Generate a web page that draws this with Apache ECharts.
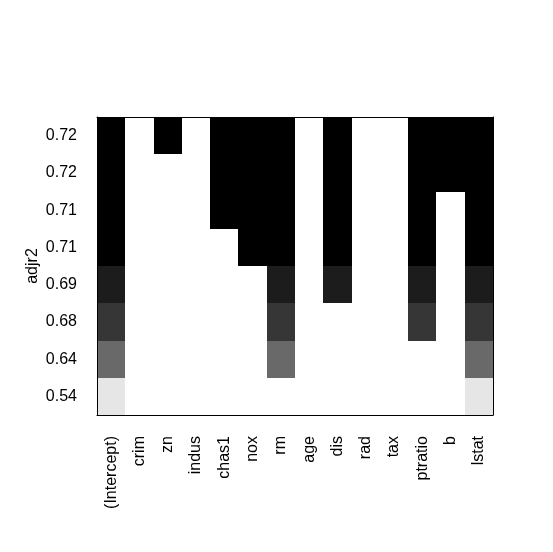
<!DOCTYPE html>
<html>
<head>
<meta charset="utf-8">
<script src="https://cdn.jsdelivr.net/npm/echarts@6/dist/echarts.min.js"></script>
<style>
  html, body { margin: 0; padding: 0; background: #fff; }
  #chart { width: 553px; height: 552px; }
</style>
</head>
<body>
<div id="chart"></div>
<script>
// variables on the x axis
var vars = ['(Intercept)', 'crim', 'zn', 'indus', 'chas1', 'nox', 'rm', 'age',
            'dis', 'rad', 'tax', 'ptratio', 'b', 'lstat'];

// adjr2 tick labels, bottom row first
var adjr2Labels = ['0.54', '0.64', '0.68', '0.69', '0.71', '0.71', '0.72', '0.72'];

// grey level of each row (0 = black), bottom row first
var shades = [0.9, 0.41, 0.21, 0.11, 0, 0, 0, 0];

// variables kept in each model, bottom row first
var models = [
  ['(Intercept)', 'lstat'],
  ['(Intercept)', 'rm', 'lstat'],
  ['(Intercept)', 'rm', 'ptratio', 'lstat'],
  ['(Intercept)', 'rm', 'dis', 'ptratio', 'lstat'],
  ['(Intercept)', 'nox', 'rm', 'dis', 'ptratio', 'lstat'],
  ['(Intercept)', 'chas1', 'nox', 'rm', 'dis', 'ptratio', 'lstat'],
  ['(Intercept)', 'chas1', 'nox', 'rm', 'dis', 'ptratio', 'b', 'lstat'],
  ['(Intercept)', 'zn', 'chas1', 'nox', 'rm', 'dis', 'ptratio', 'b', 'lstat']
];

function grey(g) {
  var c = Math.round(g * 255);
  return 'rgb(' + c + ',' + c + ',' + c + ')';
}

var cells = [];
models.forEach(function(m, row) {
  m.forEach(function(v) {
    cells.push({ value: [vars.indexOf(v), row], itemStyle: { color: grey(shades[row]) } });
  });
});

var font = '"Liberation Sans", Arial, sans-serif';
var chart = echarts.init(document.getElementById('chart'), null, { renderer: 'canvas' });

chart.setOption({
  backgroundColor: '#fff',
  animation: false,
  grid: { left: 97, right: 60, top: 117, bottom: 137, containLabel: false },
  xAxis: [{
    type: 'category',
    data: vars,
    z: 10,
    axisLine: { lineStyle: { color: '#000', width: 1 } },
    axisTick: { alignWithLabel: true, length: 9, lineStyle: { color: '#000' } },
    axisLabel: { rotate: 90, interval: 0, margin: 21, fontSize: 16, color: '#000', fontFamily: font },
    splitLine: { show: false }
  }, {
    type: 'category',
    data: vars,
    position: 'top',
    z: 10,
    axisLine: { lineStyle: { color: '#000', width: 1 } },
    axisTick: { show: false },
    axisLabel: { show: false }
  }],
  yAxis: [{
    type: 'category',
    data: adjr2Labels,
    z: 10,
    name: 'adjr2',
    nameLocation: 'middle',
    nameGap: 56,
    nameMoveOverlap: false,
    nameRotate: 90,
    nameTextStyle: { fontSize: 16, color: '#000', fontFamily: font },
    axisLine: { lineStyle: { color: '#000', width: 1 } },
    axisTick: { alignWithLabel: true, length: 9, lineStyle: { color: '#000' } },
    axisLabel: { interval: 0, margin: 20, padding: [5, 0, 0, 0], fontSize: 16, color: '#000', fontFamily: font },
    splitLine: { show: false }
  }, {
    type: 'category',
    data: adjr2Labels,
    position: 'right',
    z: 10,
    axisLine: { lineStyle: { color: '#000', width: 1 } },
    axisTick: { show: false },
    axisLabel: { show: false }
  }],
  series: [{
    type: 'custom',
    xAxisIndex: 0,
    yAxisIndex: 0,
    data: cells,
    renderItem: function(params, api) {
      var p = api.coord([api.value(0), api.value(1)]);
      var s = api.size([1, 1]);
      var x0 = Math.round(p[0] - s[0] / 2), x1 = Math.round(p[0] + s[0] / 2);
      var y0 = Math.round(p[1] - s[1] / 2), y1 = Math.round(p[1] + s[1] / 2);
      return {
        type: 'rect',
        shape: { x: x0, y: y0, width: x1 - x0, height: y1 - y0 },
        style: { fill: api.visual('color') }
      };
    }
  }]
});
</script>
</body>
</html>
